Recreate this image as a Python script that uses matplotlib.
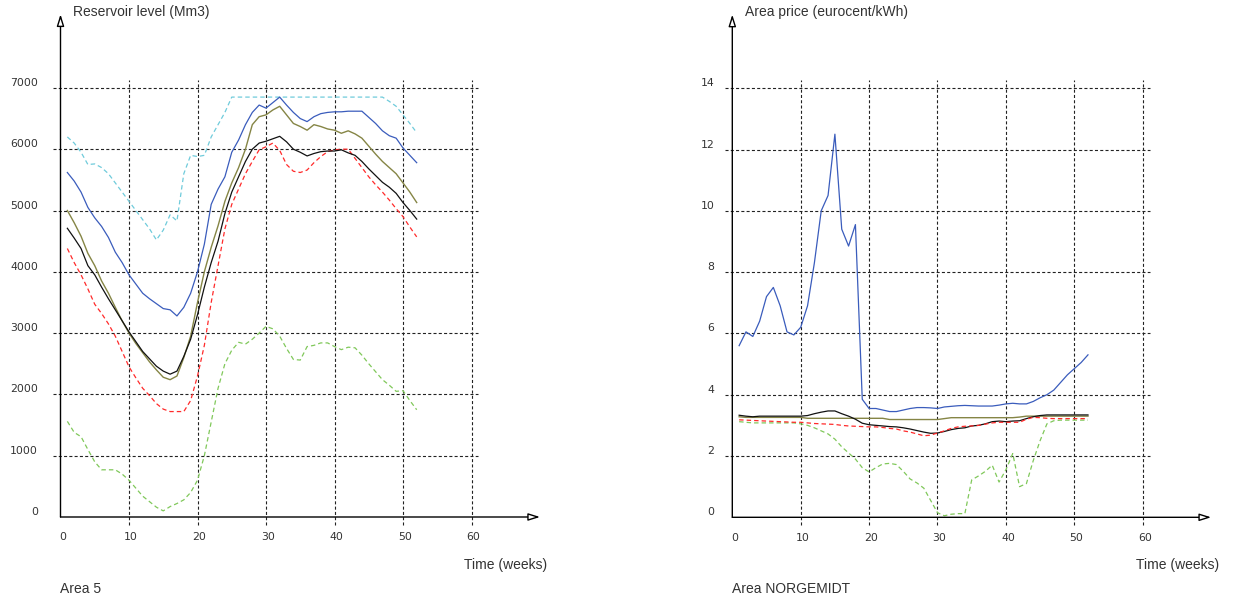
import numpy as np
import matplotlib
matplotlib.use("Agg")
import matplotlib.pyplot as plt

plt.rcParams['lines.scale_dashes'] = False

W, H = 1234, 601

weeks = np.arange(1, 53)

# --- Area 5: reservoir level (Mm3) ---
res_max = [6200, 6100, 5950, 5750, 5760, 5700, 5600, 5450, 5300, 5150,
           5000, 4850, 4700, 4520, 4680, 4930, 4830, 5600, 5900, 5880,
           5900, 6200, 6400, 6600, 6850, 6850, 6850, 6850, 6850, 6850,
           6850, 6850, 6850, 6850, 6850, 6850, 6850, 6850, 6850, 6850,
           6850, 6850, 6850, 6850, 6850, 6850, 6850, 6780, 6700, 6560,
           6420, 6270]
res_blue = [5620, 5480, 5300, 5050, 4880, 4740, 4560, 4320, 4150, 3950,
            3800, 3650, 3560, 3480, 3400, 3380, 3280, 3420, 3650, 4000,
            4450, 5100, 5350, 5550, 5950, 6150, 6400, 6600, 6720, 6670,
            6760, 6850, 6720, 6600, 6500, 6450, 6530, 6580, 6600, 6610,
            6610, 6620, 6620, 6620, 6520, 6420, 6300, 6220, 6180, 6020,
            5900, 5780]
res_olive = [5000, 4800, 4580, 4300, 4100, 3850, 3650, 3420, 3200, 3000,
             2830, 2680, 2530, 2400, 2280, 2240, 2300, 2600, 2950, 3500,
             4000, 4400, 4750, 5150, 5450, 5700, 6000, 6400, 6530, 6560,
             6640, 6700, 6560, 6420, 6370, 6310, 6400, 6370, 6330, 6310,
             6260, 6300, 6250, 6180, 6050, 5920, 5800, 5700, 5600, 5450,
             5300, 5130]
res_black = [4710, 4550, 4380, 4100, 3950, 3750, 3560, 3380, 3200, 3020,
             2860, 2700, 2580, 2460, 2380, 2330, 2380, 2620, 2900, 3300,
             3750, 4150, 4500, 4950, 5300, 5550, 5800, 6000, 6100, 6130,
             6170, 6210, 6120, 6000, 5950, 5890, 5930, 5960, 5970, 5970,
             5990, 5940, 5900, 5800, 5680, 5570, 5460, 5380, 5280, 5130,
             5000, 4860]
res_red = [4380, 4150, 3950, 3720, 3470, 3320, 3150, 2950, 2700, 2450,
           2270, 2100, 1980, 1850, 1760, 1720, 1720, 1720, 1900, 2300,
           2800, 3500, 4100, 4700, 5100, 5350, 5600, 5800, 5990, 6040,
           6100, 5980, 5750, 5640, 5620, 5660, 5780, 5880, 5960, 5990,
           6000, 6000, 5850, 5700, 5550, 5420, 5300, 5170, 5030, 4900,
           4730, 4570]
res_min = [1560, 1380, 1310, 1100, 900, 770, 770, 770, 700, 600,
           470, 340, 250, 160, 100, 170, 220, 280, 400, 600,
           1000, 1550, 2100, 2500, 2720, 2850, 2820, 2900, 3000, 3110,
           3070, 2950, 2750, 2570, 2560, 2780, 2800, 2840, 2840, 2780,
           2730, 2770, 2760, 2640, 2500, 2370, 2240, 2150, 2050, 2060,
           1900, 1750]

# --- Area NORGEMIDT: area price (eurocent/kWh) ---
pr_blue = [5.6, 6.05, 5.9, 6.4, 7.2, 7.5, 6.9, 6.05, 5.95, 6.2,
           6.9, 8.3, 10.0, 10.5, 12.5, 9.4, 8.85, 9.55, 3.85, 3.55,
           3.55, 3.5, 3.45, 3.45, 3.5, 3.55, 3.58, 3.58, 3.57, 3.55,
           3.6, 3.62, 3.64, 3.65, 3.64, 3.63, 3.63, 3.63, 3.66, 3.7,
           3.72, 3.7, 3.7, 3.78, 3.9, 4.0, 4.15, 4.4, 4.65, 4.85,
           5.05, 5.3]
pr_black = [3.33, 3.3, 3.28, 3.3, 3.3, 3.3, 3.3, 3.3, 3.3, 3.3,
            3.32, 3.38, 3.43, 3.47, 3.47, 3.38, 3.3, 3.2, 3.07, 3.02,
            3.0, 2.98, 2.96, 2.95, 2.92, 2.88, 2.83, 2.78, 2.74, 2.75,
            2.8, 2.86, 2.9, 2.92, 2.98, 3.0, 3.05, 3.12, 3.14, 3.12,
            3.14, 3.15, 3.22, 3.28, 3.32, 3.34, 3.34, 3.34, 3.34, 3.34,
            3.34, 3.34]
pr_olive = [3.28, 3.26, 3.26, 3.26, 3.26, 3.26, 3.26, 3.26, 3.26, 3.26,
            3.23, 3.23, 3.23, 3.23, 3.23, 3.23, 3.23, 3.23, 3.23, 3.23,
            3.23, 3.23, 3.19, 3.19, 3.19, 3.19, 3.19, 3.19, 3.19, 3.19,
            3.22, 3.25, 3.25, 3.25, 3.25, 3.25, 3.25, 3.25, 3.25, 3.25,
            3.25, 3.27, 3.3, 3.3, 3.3, 3.3, 3.3, 3.3, 3.3, 3.3,
            3.3, 3.3]
pr_red = [3.18, 3.17, 3.16, 3.15, 3.14, 3.13, 3.12, 3.11, 3.1, 3.1,
          3.08, 3.06, 3.05, 3.04, 3.03, 3.0, 2.98, 2.97, 2.96, 2.95,
          2.95, 2.93, 2.9, 2.88, 2.82, 2.78, 2.72, 2.66, 2.68, 2.75,
          2.82, 2.9, 2.95, 2.97, 2.98, 3.0, 3.04, 3.08, 3.1, 3.1,
          3.1, 3.1, 3.2, 3.26, 3.25, 3.23, 3.22, 3.22, 3.22, 3.22,
          3.22, 3.22]
pr_green = [3.12, 3.1, 3.08, 3.08, 3.08, 3.08, 3.08, 3.08, 3.08, 3.05,
            3.0, 2.92, 2.82, 2.72, 2.55, 2.3, 2.1, 1.9, 1.62, 1.48,
            1.62, 1.74, 1.76, 1.72, 1.5, 1.25, 1.12, 0.95, 0.55, 0.15,
            0.05, 0.1, 0.12, 0.12, 1.22, 1.35, 1.5, 1.7, 1.15, 1.55,
            2.08, 1.0, 1.1, 1.85, 2.5, 3.05, 3.15, 3.17, 3.17, 3.17,
            3.17, 3.17]

x_ticks = [0, 10, 20, 30, 40, 50, 60]
res_ticks = [0, 1000, 2000, 3000, 4000, 5000, 6000, 7000]
pr_ticks = [0, 2, 4, 6, 8, 10, 12, 14]

C_BLUE = '#3a5cbc'
C_CYAN = '#6fcbdb'
C_OLIVE = '#858545'
C_BLACK = '#111111'
C_RED = '#ff2a2a'
C_GREEN = '#80c85a'
DASH = (0, (3.2, 2.2))
GRID = (0, (2.2, 1.6))


def make_axes(px0, w_per_px, xlim, py0, v_per_px, ylim):
    # place an axes so that data->pixel mapping matches the reference
    left = px0 + xlim[0] * w_per_px
    right = px0 + xlim[1] * w_per_px
    bottom = py0 - ylim[0] * v_per_px
    top = py0 - ylim[1] * v_per_px
    ax = fig.add_axes([left / W, 1 - bottom / H, (right - left) / W, (bottom - top) / H])
    ax.set_xlim(*xlim)
    ax.set_ylim(*ylim)
    ax.axis('off')
    return ax


def frame(ax, yticks, ytop, vgrid_lo, vgrid_hi, label_dx):
    step = yticks[1] - yticks[0]
    # grid
    for t in yticks[1:]:
        ax.plot([-1.1, 61], [t, t], color='#222222', lw=0.8, ls=GRID)
    for t in x_ticks[1:]:
        ax.plot([t, t], [vgrid_lo, vgrid_hi], color='#222222', lw=0.8, ls=GRID)
    # axes with open arrows
    ax.annotate('', xy=(70, 0), xytext=(0, 0),
                arrowprops=dict(arrowstyle='-|>,head_length=0.7,head_width=0.22',
                                fc='white', ec='black', lw=1.0, shrinkA=0, shrinkB=0))
    ax.annotate('', xy=(0, ytop), xytext=(0, 0),
                arrowprops=dict(arrowstyle='-|>,head_length=0.7,head_width=0.22',
                                fc='white', ec='black', lw=1.0, shrinkA=0, shrinkB=0))
    for t in yticks:
        ax.text(label_dx, t + step * 0.08, str(t), ha='right', va='center',
                fontsize=7.8, color='#333333', fontfamily='DejaVu Sans')
    for t in x_ticks:
        ax.text(t + 0.3, -step * 0.33, str(t), ha='center', va='center',
                fontsize=7.8, color='#333333', fontfamily='DejaVu Sans')


fig = plt.figure(figsize=(W / 100, H / 100), dpi=100)

# left panel
ax1 = make_axes(60.5, 6.85, (-6, 75), 517.0, 0.0613, (-1000, 8400))
frame(ax1, res_ticks, 8200, -130, 7130, -3.3)
ax1.plot(weeks, res_max, color=C_CYAN, lw=0.9, ls=DASH)
ax1.plot(weeks, res_min, color=C_GREEN, lw=0.9, ls=DASH)
ax1.plot(weeks, res_red, color=C_RED, lw=0.9, ls=DASH)
ax1.plot(weeks, res_blue, color=C_BLUE, lw=0.9)
ax1.plot(weeks, res_olive, color=C_OLIVE, lw=1.0)
ax1.plot(weeks, res_black, color=C_BLACK, lw=0.9)

# right panel
ax2 = make_axes(732.3, 6.84, (-6, 73), 517.3, 30.65, (-2, 16.8))
frame(ax2, pr_ticks, 16.4, -0.25, 14.27, -2.6)
ax2.plot(weeks, pr_green, color=C_GREEN, lw=0.9, ls=DASH)
ax2.plot(weeks, pr_olive, color=C_OLIVE, lw=1.0)
ax2.plot(weeks, pr_black, color=C_BLACK, lw=0.9)
ax2.plot(weeks, pr_red, color=C_RED, lw=0.9, ls=DASH)
ax2.plot(weeks, pr_blue, color=C_BLUE, lw=0.9)

# titles and captions (pixel positions)
def ptext(x, y, s):
    fig.text(x / W, 1 - y / H, s, ha='left', va='center', fontsize=10,
             color='#333333', fontfamily='Liberation Sans')

ptext(73, 12, 'Reservoir level (Mm3)')
ptext(464, 565, 'Time (weeks)')
ptext(60, 589, 'Area 5')
ptext(745, 12, 'Area price (eurocent/kWh)')
ptext(1136, 565, 'Time (weeks)')
ptext(732, 589, 'Area NORGEMIDT')

fig.savefig('out.png', dpi=100, facecolor='white')
